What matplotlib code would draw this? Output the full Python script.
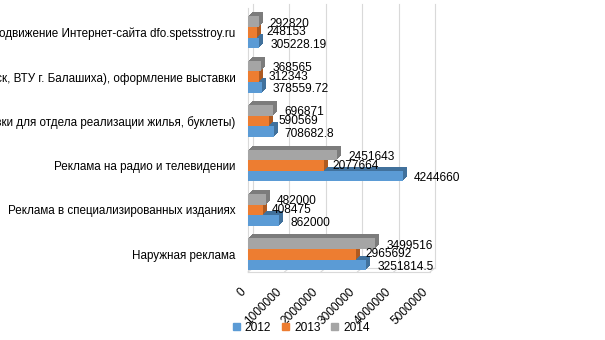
import matplotlib
matplotlib.use("Agg")
import matplotlib.pyplot as plt
from matplotlib.transforms import ScaledTranslation
from matplotlib.patches import Patch

plt.rcParams['font.family'] = ['Liberation Sans', 'DejaVu Sans']

# data
categories = [
    "Создание и продвижение Интернет-сайта dfo.spetsstroy.ru",
    "Участие в выставках (г. Хабаровск, ВТУ г. Балашиха), оформление выставки",
    "Полиграфия (листовки для отдела реализации жилья, буклеты)",
    "Реклама на радио и телевидении",
    "Реклама в специализированных изданиях",
    "Наружная реклама",
]
years = ["2012", "2013", "2014"]
v2012 = [305228.19, 378559.72, 708682.8, 4244660, 862000, 3251814.5]
v2013 = [248153, 312343, 590569, 2077664, 408475, 2965692]
v2014 = [292820, 368565, 696871, 2451643, 482000, 3499516]
xticks = [0, 1000000, 2000000, 3000000, 4000000, 5000000]

colors = ["#5B9BD5", "#ED7D31", "#A5A5A5"]
dark = ["#41719C", "#AE5A21", "#7C7C7C"]

fig = plt.figure(figsize=(6.05, 3.4), dpi=100)
ax = fig.add_axes([248 / 605, 68 / 340, 182 / 605, 264 / 340])


def px(dx, dy):
    return ScaledTranslation(dx / 100, dy / 100, fig.dpi_scale_trans)


d = 4  # depth in pixels
h = 0.24
offsets = [0.24, 0.0, -0.24]  # 2012 bottom, 2014 top (y inverted)
series = [v2012, v2013, v2014]
ypos = list(range(len(categories)))
ybot, ytop = 5.4, -0.55

# back wall gridlines
for t in xticks:
    ax.plot([t, t], [ytop, ybot], color="#D9D9D9", lw=0.8,
            transform=ax.transData + px(d + 1, d), clip_on=False, zorder=0)

# floor
ax.plot([0, 5000000], [ybot, ybot], color="#D9D9D9", lw=0.8, clip_on=False)
ax.plot([0, 5000000], [ybot, ybot], color="#D9D9D9", lw=0.8, clip_on=False,
        transform=ax.transData + px(d + 1, d))
for t in xticks:
    ax.annotate("", xy=(t, ybot), xycoords="data",
                xytext=(t, ybot), textcoords=ax.transData + px(d + 1, d),
                arrowprops=dict(arrowstyle="-", color="#D9D9D9", lw=0.8,
                                shrinkA=0, shrinkB=0))
# left wall
ax.plot([0, 0], [ytop, ybot], color="#D9D9D9", lw=0.8, clip_on=False)

# bars with simple extrusion
for i, vals in enumerate(series):
    y = [p + offsets[i] for p in ypos]
    for k in range(1, d + 1):
        ax.barh(y, vals, height=h, color=dark[i], linewidth=0,
                transform=ax.transData + px(k, k), zorder=2 + i * 0.1)
    ax.barh(y, vals, height=h, color=colors[i], linewidth=0, zorder=3 + i * 0.1)

# value labels
lab_shift = [(11, -2), (9, 0), (11, -2)]
for i, vals in enumerate(series):
    for j, v in enumerate(vals):
        txt = str(v) if v != int(v) else str(int(v))
        ax.annotate(txt, xy=(v, j + offsets[i]), xytext=lab_shift[i],
                    textcoords="offset pixels", fontsize=8.6, ha="left",
                    va="center", annotation_clip=False, zorder=5)

ax.set_xlim(0, 5000000)
ax.set_ylim(ybot, ytop)
ax.set_yticks(ypos)
ax.set_yticklabels(categories, fontsize=8.4)
ax.set_xticks(xticks)
ax.set_xticklabels([str(t) for t in xticks], rotation=45, ha="right",
                   va="top", fontsize=8.6)
ax.tick_params(axis="y", length=0, pad=9)
ax.tick_params(axis="x", length=0, pad=10)
for s in ax.spines.values():
    s.set_visible(False)
ax.patch.set_visible(False)

handles = [Patch(color=c) for c in colors]
fig.legend(handles, years, loc="center", bbox_to_anchor=(0.498, 0.036), ncol=3,
           frameon=False, fontsize=8.6, handlelength=0.6, handleheight=0.6,
           columnspacing=0.9, handletextpad=0.4)

fig.savefig("out.png", dpi=100)
